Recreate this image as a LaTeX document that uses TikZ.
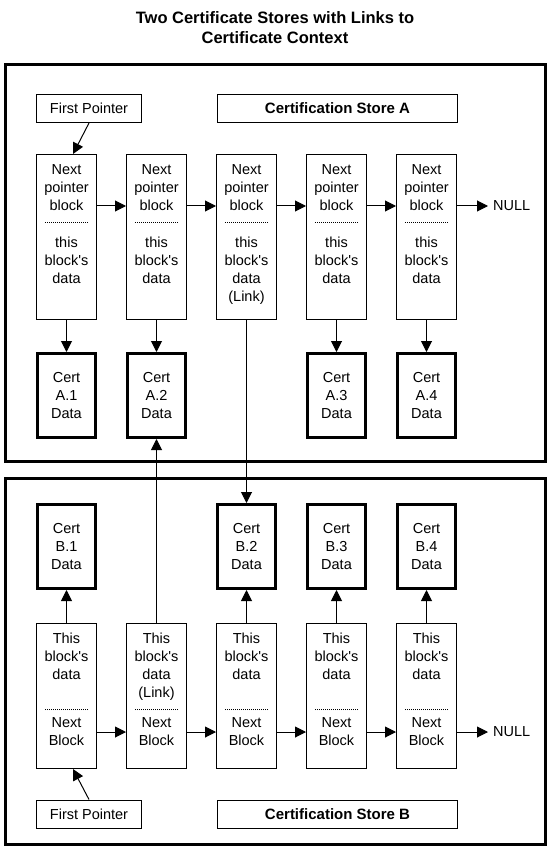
\documentclass[tikz,border=0pt]{standalone}
\usepackage{fontspec}
\setmainfont{Liberation Sans}[Ligatures=TeXOff]
\usepackage{tikz}
\usetikzlibrary{arrows.meta,positioning}

\newcommand{\dotrule}{\hbox to 44pt{\leaders\hbox to 2pt{\hss\vrule width 1pt height 0.5pt depth 0.5pt\hss}\hfill}}

\begin{document}
\begin{tikzpicture}[x=1pt,y=1pt,>={Triangle[length=11pt,width=11pt]}]

\tikzstyle{storeFrame} = [draw, rectangle, line width=3pt, minimum width=540pt]
\tikzstyle{blockBox} = [draw, rectangle, line width=1pt, minimum width=60pt, inner sep=0pt]
\tikzstyle{certBox} = [draw, rectangle, line width=3pt, minimum width=58pt, minimum height=84pt, inner sep=0pt, align=center, font={\fontsize{14.5}{18}\selectfont}]
\tikzstyle{infoBox} = [draw, rectangle, line width=1pt, minimum height=28pt, font={\fontsize{14.5}{18}\selectfont}]
\tikzstyle{blockText} = [align=center, inner sep=0pt, font={\fontsize{14.5}{18}\selectfont}]
\tikzstyle{heading} = [align=center, inner sep=0pt, font={\fontsize{16.5}{20}\selectfont\bfseries}]
\tikzstyle{arrowEdge} = [black, line width=1pt, ->];

\useasboundingbox (0,0) rectangle (551,-850);

\node[heading, name=title] at (275,-28) {Two Certificate Stores with Links to\\Certificate Context};

% store A
\node[storeFrame, name=frameA, minimum height=397pt] at (275.5,-263) {};
\node[infoBox, name=fpA, minimum width=105pt] at (89,-108.5) {First Pointer};
\node[infoBox, name=storeA, minimum width=240pt, font={\fontsize{15}{18}\selectfont\bfseries}] at (337.5,-108.5) {Certification Store A};

\node[blockBox, name=a1, minimum height=165pt] at (66.5,-237) {};
\node[blockBox, name=a2, minimum height=165pt, right=29pt of a1] {};
\node[blockBox, name=a3, minimum height=165pt, right=29pt of a2] {};
\node[blockBox, name=a4, minimum height=165pt, right=29pt of a3] {};
\node[blockBox, name=a5, minimum height=165pt, right=29pt of a4] {};

\node[blockText, name=a1t, below=10pt of a1.north] {Next\\pointer\\block\\[-6pt]\dotrule\\[7pt]this\\block's\\data};
\node[blockText, name=a2t, below=10pt of a2.north] {Next\\pointer\\block\\[-6pt]\dotrule\\[7pt]this\\block's\\data};
\node[blockText, name=a3t, below=10pt of a3.north] {Next\\pointer\\block\\[-6pt]\dotrule\\[7pt]this\\block's\\data\\(Link)};
\node[blockText, name=a4t, below=10pt of a4.north] {Next\\pointer\\block\\[-6pt]\dotrule\\[7pt]this\\block's\\data};
\node[blockText, name=a5t, below=10pt of a5.north] {Next\\pointer\\block\\[-6pt]\dotrule\\[7pt]this\\block's\\data};
\node[blockText, name=nullA, anchor=west, inner xsep=5pt] at (488,-206) {NULL};

\node[certBox, name=certA1, below=32pt of a1] {Cert\\A.1\\Data};
\node[certBox, name=certA2, below=32pt of a2] {Cert\\A.2\\Data};
\node[certBox, name=certA3, below=32pt of a4] {Cert\\A.3\\Data};
\node[certBox, name=certA4, below=32pt of a5] {Cert\\A.4\\Data};

% store B
\node[storeFrame, name=frameB, minimum height=366pt] at (275.5,-661) {};
\node[infoBox, name=fpB, minimum width=105pt] at (89,-814) {First Pointer};
\node[infoBox, name=storeB, minimum width=240pt, font={\fontsize{15}{18}\selectfont\bfseries}] at (337.5,-814) {Certification Store B};

\node[blockBox, name=b1, minimum height=145pt] at (66.5,-696) {};
\node[blockBox, name=b2, minimum height=145pt, right=29pt of b1] {};
\node[blockBox, name=b3, minimum height=145pt, right=29pt of b2] {};
\node[blockBox, name=b4, minimum height=145pt, right=29pt of b3] {};
\node[blockBox, name=b5, minimum height=145pt, right=29pt of b4] {};

\node[blockText, name=b1t, below=10pt of b1.north] {This\\block's\\data\\[12pt]\dotrule\\Next\\Block};
\node[blockText, name=b2t, below=10pt of b2.north] {This\\block's\\data\\(Link)\\[-6pt]\dotrule\\Next\\Block};
\node[blockText, name=b3t, below=10pt of b3.north] {This\\block's\\data\\[12pt]\dotrule\\Next\\Block};
\node[blockText, name=b4t, below=10pt of b4.north] {This\\block's\\data\\[12pt]\dotrule\\Next\\Block};
\node[blockText, name=b5t, below=10pt of b5.north] {This\\block's\\data\\[12pt]\dotrule\\Next\\Block};
\node[blockText, name=nullB, anchor=west, inner xsep=5pt] at (488,-732) {NULL};

\node[certBox, name=certB1, above=33pt of b1] {Cert\\B.1\\Data};
\node[certBox, name=certB2, above=33pt of b3] {Cert\\B.2\\Data};
\node[certBox, name=certB3, above=33pt of b4] {Cert\\B.3\\Data};
\node[certBox, name=certB4, above=33pt of b5] {Cert\\B.4\\Data};

% links in store A
\draw (fpA.south) edge[arrowEdge] ([xshift=6.5pt]a1.north);
\draw ([yshift=31pt]a1.east) edge[arrowEdge] ([yshift=31pt]a2.west);
\draw ([yshift=31pt]a2.east) edge[arrowEdge] ([yshift=31pt]a3.west);
\draw ([yshift=31pt]a3.east) edge[arrowEdge] ([yshift=31pt]a4.west);
\draw ([yshift=31pt]a4.east) edge[arrowEdge] ([yshift=31pt]a5.west);
\draw ([yshift=31pt]a5.east) edge[arrowEdge] (nullA.west);
\draw (a1) edge[arrowEdge] (certA1);
\draw (a2) edge[arrowEdge] (certA2);
\draw (a4) edge[arrowEdge] (certA3);
\draw (a5) edge[arrowEdge] (certA4);

% links in store B
\draw (fpB.north) edge[arrowEdge] ([xshift=6.5pt]b1.south);
\draw ([yshift=-36pt]b1.east) edge[arrowEdge] ([yshift=-36pt]b2.west);
\draw ([yshift=-36pt]b2.east) edge[arrowEdge] ([yshift=-36pt]b3.west);
\draw ([yshift=-36pt]b3.east) edge[arrowEdge] ([yshift=-36pt]b4.west);
\draw ([yshift=-36pt]b4.east) edge[arrowEdge] ([yshift=-36pt]b5.west);
\draw ([yshift=-36pt]b5.east) edge[arrowEdge] (nullB.west);
\draw (b1) edge[arrowEdge] (certB1);
\draw (b3) edge[arrowEdge] (certB2);
\draw (b4) edge[arrowEdge] (certB3);
\draw (b5) edge[arrowEdge] (certB4);

% links between the stores
\draw (a3.south) edge[arrowEdge] (certB2.north);
\draw (b2.north) edge[arrowEdge] (certA2.south);
\end{tikzpicture}
\end{document}
